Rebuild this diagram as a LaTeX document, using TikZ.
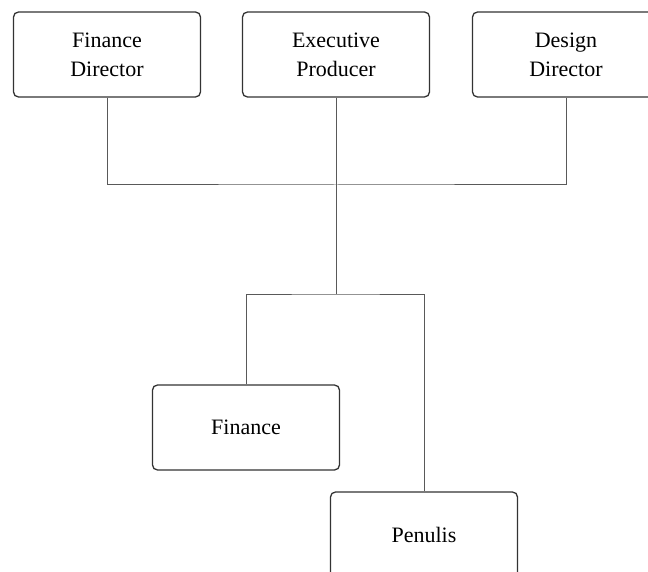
\documentclass[tikz,border=0pt]{standalone}
\usepackage{fontspec}
\setmainfont{Liberation Serif}
\begin{document}
\begin{tikzpicture}[x=1pt,y=-1pt,
  box/.style={draw=black!80, line width=1.3pt, rounded corners=5pt, minimum width=187pt, minimum height=85pt, inner sep=0pt, align=center, font=\fontsize{22}{29}\selectfont, text=black},
  conn/.style={draw=black!65, line width=1pt}]
\useasboundingbox (0,0) rectangle (648,572);
\clip (0,0) rectangle (648,572);
\node[box] (FD) at (107,54.5) {Finance\\Director};
\node[box] (EP) at (336,54.5) {Executive\\Producer};
\node[box] (DD) at (566,54.5) {Design\\Director};
\node[box] (FI) at (246,427.5) {Finance};
\node[box] (PE) at (424,534.5) {Penulis};
\coordinate (j1) at (EP.south |- 0,185);
\coordinate (j2) at (EP.south |- 0,294);
\draw[conn] (FD.south) |- (j1) -| (DD.south);
\draw[conn] (EP.south) -- (j2);
\draw[conn] (FI.north) |- (j2) -| (PE.north);
\end{tikzpicture}
\end{document}
